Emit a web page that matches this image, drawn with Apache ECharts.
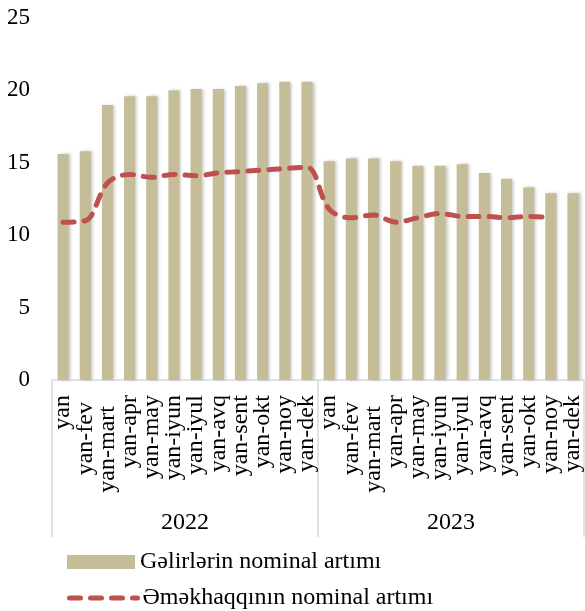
<!DOCTYPE html>
<html>
<head>
<meta charset="utf-8">
<script src="https://cdn.jsdelivr.net/npm/echarts@6/dist/echarts.min.js"></script>
<style>
  html, body { margin: 0; padding: 0; background: #ffffff; }
  #chart { width: 585px; height: 611px; }
</style>
</head>
<body>
<div id="chart"></div>
<script>
// Cumulative periods within each year
const periods = ['yan', 'yan-fev', 'yan-mart', 'yan-apr', 'yan-may', 'yan-iyun',
                 'yan-iyul', 'yan-avq', 'yan-sent', 'yan-okt', 'yan-noy', 'yan-dek'];
const years = ['2022', '2023'];

// Nominal growth of incomes, % (bars)
const incomeGrowth = [15.6, 15.8, 19.0, 19.6, 19.6, 20.0, 20.1, 20.1, 20.3, 20.5, 20.6, 20.6,
                      15.1, 15.3, 15.3, 15.1, 14.8, 14.8, 14.9, 14.3, 13.9, 13.3, 12.9, 12.9];
// Nominal growth of wages, % (dashed line)
const wageGrowth = [10.9, 11.0, 13.6, 14.2, 14.0, 14.2, 14.1, 14.3, 14.4, 14.5, 14.6, 14.7,
                    11.8, 11.2, 11.4, 10.9, 11.2, 11.5, 11.3, 11.3, 11.2, 11.3, 11.2, null];

const yTicks = { min: 0, max: 25, interval: 5 };
const seriesNames = ['Gəlirlərin nominal artımı', 'Əməkhaqqının nominal artımı'];

const serif = '"Liberation Serif", "DejaVu Serif", serif';

// Period labels sit slightly lower for the second and third months
const labelShift = { 'yan-fev': 7, 'yan-mart': 11 };
const categories = [];
years.forEach(() => periods.forEach(p => {
  const shift = labelShift[p] || 0;
  categories.push(shift ? { value: p, textStyle: { padding: [0, shift, 0, 0] } } : p);
}));

const legendText = { fontFamily: serif, fontSize: 24, color: '#000' };
const wageLine = { color: '#c0504d', width: 5, type: [11, 10], cap: 'round' };

const chart = echarts.init(document.getElementById('chart'), null, { renderer: 'canvas' });
chart.setOption({
  animation: false,
  backgroundColor: '#ffffff',
  grid: { left: 52, right: 0, top: 18, bottom: 231, containLabel: false },
  legend: [
    {
      left: 62,
      top: 545,
      itemWidth: 68,
      itemHeight: 14,
      textStyle: legendText,
      data: [{ name: seriesNames[0], icon: 'rect' }]
    },
    {
      left: 62,
      top: 581,
      itemWidth: 68,
      itemHeight: 14,
      textStyle: legendText,
      data: [{ name: seriesNames[1], itemStyle: { opacity: 0 }, lineStyle: wageLine }]
    }
  ],
  xAxis: [
    {
      type: 'category',
      data: categories,
      position: 'bottom',
      axisLine: { show: true, lineStyle: { color: '#d9d9d9', width: 1.5 } },
      axisTick: { show: false },
      axisLabel: {
        rotate: 90,
        interval: 0,
        margin: 15,
        fontFamily: serif,
        fontSize: 24,
        color: '#000'
      }
    },
    {
      type: 'category',
      data: years,
      position: 'bottom',
      axisLine: { show: false },
      axisTick: { show: true, length: 157, lineStyle: { color: '#d9d9d9', width: 1.5 } },
      axisLabel: { margin: 131, fontFamily: serif, fontSize: 24, color: '#000' }
    }
  ],
  yAxis: {
    type: 'value',
    min: yTicks.min,
    max: yTicks.max,
    interval: yTicks.interval,
    axisLine: { show: false },
    axisTick: { show: false },
    splitLine: { show: false },
    axisLabel: { margin: 22, fontFamily: serif, fontSize: 23, color: '#000' }
  },
  series: [
    {
      name: seriesNames[0],
      type: 'bar',
      data: incomeGrowth,
      barWidth: '50%',
      itemStyle: {
        color: '#c4bd97',
        shadowColor: 'rgba(0,0,0,0.22)',
        shadowBlur: 3,
        shadowOffsetX: 2,
        shadowOffsetY: 0
      }
    },
    {
      name: seriesNames[1],
      type: 'line',
      data: wageGrowth,
      smooth: 0.35,
      symbol: 'none',
      lineStyle: wageLine,
      itemStyle: { color: '#c0504d' }
    }
  ]
});
</script>
</body>
</html>
